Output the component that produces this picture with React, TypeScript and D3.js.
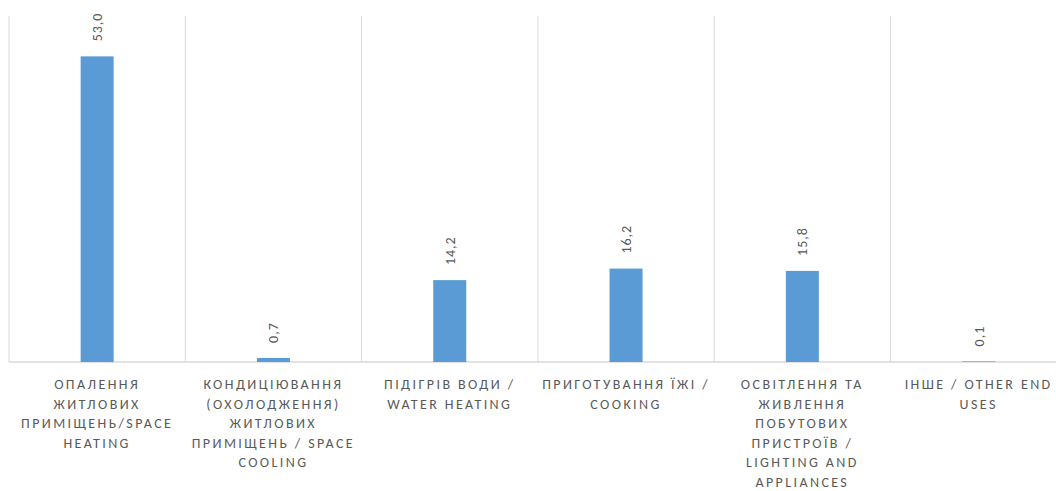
import React from "react";
import * as d3 from "d3";

const categories: string[] = [
  "Опалення житлових приміщень/Space heating",
  "Кондиціювання (охолодження) житлових приміщень / Space cooling",
  "Підігрів води / Water heating",
  "Приготування їжі / Cooking",
  "Освітлення та живлення побутових пристроїв / Lighting and appliances",
  "Інше / Other end uses",
];
const categoryLines: string[][] = [
  ["ОПАЛЕННЯ", "ЖИТЛОВИХ", "ПРИМІЩЕНЬ/SPACE", "HEATING"],
  ["КОНДИЦІЮВАННЯ", "(ОХОЛОДЖЕННЯ)", "ЖИТЛОВИХ", "ПРИМІЩЕНЬ / SPACE", "COOLING"],
  ["ПІДІГРІВ ВОДИ /", "WATER HEATING"],
  ["ПРИГОТУВАННЯ ЇЖІ /", "COOKING"],
  ["ОСВІТЛЕННЯ ТА", "ЖИВЛЕННЯ", "ПОБУТОВИХ", "ПРИСТРОЇВ /", "LIGHTING AND", "APPLIANCES"],
  ["ІНШЕ / OTHER END", "USES"],
];
const values: number[] = [53.0, 0.7, 14.2, 16.2, 15.8, 0.1];
const valueLabels: string[] = ["53,0", "0,7", "14,2", "16,2", "15,8", "0,1"];
const yDomain: [number, number] = [0, 60];

const W = 1056;
const H = 491;
const left = 9;
const band = 176.3;
const baseY = 362;
const topY = 16;
const barW = 33;
const font = "Calibri, Carlito, Lato, sans-serif";

export default function App() {
  const x = d3
    .scaleBand<string>()
    .domain(categories)
    .range([left, left + band * categories.length])
    .padding(0);
  const y = d3.scaleLinear().domain(yDomain).range([baseY, topY]);
  const bounds = categories.map((c) => x(c) as number).concat([left + band * categories.length]);

  return (
    <svg
      width={W}
      height={H}
      style={{ position: "absolute", left: 0, top: 0, background: "#fff" }}
    >
      {bounds.map((bx, i) => (
        <line key={"g" + i} x1={bx} x2={bx} y1={topY} y2={baseY} stroke="#d9d9d9" strokeWidth={1} />
      ))}
      <line x1={left} x2={W} y1={baseY} y2={baseY} stroke="#d9d9d9" strokeWidth={1.5} />
      {categories.map((c, i) => {
        const cx = (x(c) as number) + x.bandwidth() / 2;
        const yt = y(values[i]);
        return (
          <g key={c}>
            <rect x={cx - barW / 2} y={yt} width={barW} height={baseY - yt} fill="#5b9bd5" />
            <text
              transform={`translate(${cx + 5},${yt - 15}) rotate(-90)`}
              fontFamily={font}
              fontSize={14}
              fill="#595959"
              letterSpacing={1}
              textAnchor="start"
            >
              {valueLabels[i]}
            </text>
            {categoryLines[i].map((ln, j) => (
              <text
                key={j}
                x={cx}
                y={389 + j * 19.6}
                textAnchor="middle"
                fontFamily={font}
                fontSize={14}
                fill="#595959"
                letterSpacing={2.4}
              >
                {ln}
              </text>
            ))}
          </g>
        );
      })}
    </svg>
  );
}
